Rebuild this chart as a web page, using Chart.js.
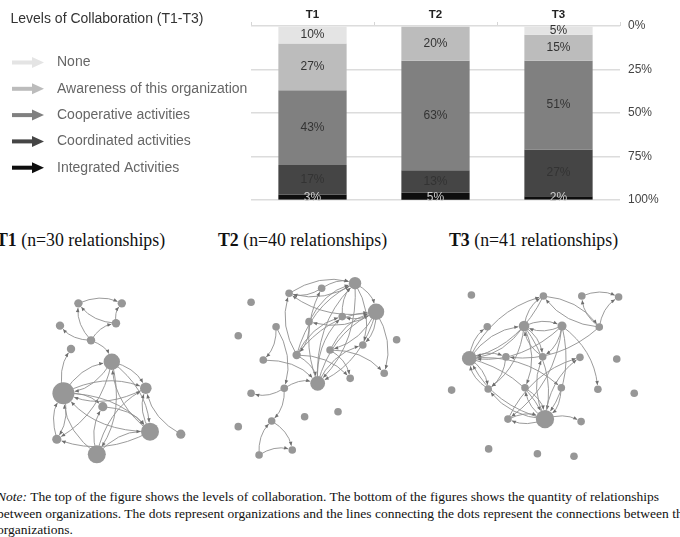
<!DOCTYPE html>
<html>
<head>
<meta charset="utf-8">
<title>Levels of Collaboration</title>
<script src="https://cdn.jsdelivr.net/npm/chart.js@4.4.1/dist/chart.umd.min.js"></script>
<style>
  html, body { margin: 0; padding: 0; background: #fff; }
  body { width: 680px; height: 537px; overflow: hidden; position: relative; }
  #bars { position: absolute; left: 0; top: 0; }
  .net { position: absolute; top: 262px; }
  .ttl { position: absolute; top: 230px; font: 17.8px "Liberation Serif", "Times New Roman", serif; color: #111; white-space: nowrap; }
  #note { position: absolute; left: -3px; top: 489px; font: 13.5px "Liberation Serif", "Times New Roman", serif; line-height: 16.5px; white-space: nowrap; color: #111; }
</style>
</head>
<body>
<canvas id="bars" width="680" height="215"></canvas>

<div class="ttl" style="left:-4px"><b>T1</b> (n=30 relationships)</div>
<div class="ttl" style="left:218px"><b>T2</b> (n=40 relationships)</div>
<div class="ttl" style="left:449px"><b>T3</b> (n=41 relationships)</div>

<canvas id="net1" class="net" width="200" height="210" style="left:20px"></canvas>
<canvas id="net2" class="net" width="210" height="210" style="left:220px"></canvas>
<canvas id="net3" class="net" width="230" height="210" style="left:430px"></canvas>

<div id="note"><i>Note:</i> The top of the figure shows the levels of collaboration. The bottom of the figures shows the quantity of relationships<br>between organizations. The dots represent organizations and the lines connecting the dots represent the connections between the<br>organizations.</div>

<script>
// ---------------- levels of collaboration (stacked %) ----------------
const categories = ['T1', 'T2', 'T3'];
const levels = ['None', 'Awareness of this organization', 'Cooperative activities', 'Coordinated activities', 'Integrated Activities'];
const noneValues = [10, 0, 5];
const awarenessValues = [27, 20, 15];
const cooperativeValues = [43, 63, 51];
const coordinatedValues = [17, 13, 27];
const integratedValues = [3, 5, 2];
const yTicks = [0, 25, 50, 75, 100];

const levelColors = ['#e4e4e4', '#bcbcbc', '#808080', '#454545', '#0e0e0e'];

// ---------------- networks: node layout (0-100), node centrality, edges [from, to] ----------------
const t1NodeX = [29.2, 50.9, 48.0, 20.0, 35.5, 25.5, 45.9, 21.7, 62.9, 41.4, 65.0, 80.4, 18.4, 38.4];
const t1NodeY = [19.7, 19.7, 29.2, 30.3, 37.3, 41.4, 47.5, 62.5, 60.1, 68.9, 80.8, 82.0, 84.4, 91.6];
const t1Centrality = [1, 1, 1, 1, 1, 1, 6, 9.5, 3, 1.5, 7, 1.5, 1.5, 7];
const t1Edges = [[0,1],[2,0],[2,1],[4,2],[4,0],[4,3],[4,6],[7,5],[7,6],[6,7],[6,8],[7,8],[8,7],[7,9],[7,10],
  [6,12],[6,13],[6,10],[10,8],[10,7],[10,12],[13,10],[13,7],[12,7],[11,8],[13,9],[13,8],[10,6],[7,12],[9,10]];

const t2NodeX = [64.3, 74.3, 32.9, 48.4, 14.8, 42.4, 58.2, 26.7, 8.7, 84.1, 68.0, 36.5, 52.4, 20.6, 78.2, 62.0, 46.5, 30.6, 14.8, 56.2, 40.3, 24.6, 8.7, 34.4, 18.6];
const t2NodeY = [10.1, 23.7, 14.9, 12.5, 19.2, 28.4, 26.0, 30.8, 35.1, 37.0, 39.5, 44.3, 41.9, 46.7, 53.0, 55.4, 57.8, 60.1, 62.5, 71.3, 73.7, 75.7, 78.4, 89.5, 91.9];
const t2Centrality = [3.5, 6, 0.5, 0.5, 0.5, 0.5, 0.5, 0.5, 0.5, 0.5, 0.5, 1, 0.5, 0.5, 0.5, 0.5, 5, 0.5, 0.5, 0.5, 0.5, 0.5, 0.5, 0.5, 0.5];
const t2Edges = [[3,0],[2,0],[0,2],[0,1],[1,2],[1,5],[1,6],[1,10],[1,14],[1,16],[16,1],[16,0],[0,16],[11,0],[11,1],
  [11,2],[11,16],[5,11],[16,3],[7,13],[7,17],[17,16],[13,16],[17,18],[17,21],[21,23],[24,23],[24,21],[11,15],[12,15],
  [12,14],[11,6],[0,10],[1,12],[16,6],[6,0],[12,1],[5,0],[16,10],[3,2]];

const t3NodeX = [18.0, 49.3, 66.0, 82.0, 24.9, 40.9, 57.4, 73.6, 17.1, 33.0, 49.0, 65.2, 81.2, 9.4, 25.3, 41.3, 57.1, 73.0, 88.8, 33.9, 50.0, 65.7, 25.5, 46.7, 62.6];
const t3NodeY = [15.7, 16.2, 16.2, 16.7, 30.8, 30.5, 30.5, 31.0, 45.9, 45.2, 45.1, 45.4, 46.2, 61.0, 60.5, 59.9, 59.9, 60.6, 62.5, 74.8, 74.8, 76.0, 89.0, 91.3, 92.5];
const t3Centrality = [0.5, 0.5, 0.5, 0.5, 0.5, 2.4, 1.4, 0.5, 5, 0.5, 0.5, 0.5, 0.5, 0.5, 0.5, 0.5, 0.5, 0.5, 0.5, 0.5, 7.2, 0.5, 0.5, 0.5, 0.5];
const t3Edges = [[2,3],[7,2],[7,3],[8,1],[5,1],[1,7],[7,1],[5,6],[6,5],[8,5],[5,8],[6,8],[8,4],[7,9],[8,20],
  [20,8],[5,20],[6,20],[20,10],[5,10],[5,14],[5,15],[6,17],[6,19],[8,14],[8,16],[14,8],[19,11],[20,14],[20,15],
  [20,21],[19,20],[20,19],[9,14],[10,5],[16,20],[20,11],[15,20],[8,9],[6,10],[1,8]];

// ---------------- plugins ----------------
// arrow legend on the left, drawn from the datasets
const arrowLegend = {
  id: 'arrowLegend',
  afterDraw(chart) {
    const ctx = chart.ctx;
    ctx.save();
    ctx.textBaseline = 'middle';
    ctx.textAlign = 'left';
    ctx.font = '14px "Liberation Sans", Arial, sans-serif';
    ctx.fillStyle = '#333';
    ctx.fillText('Levels of Collaboration (T1-T3)', 10.5, 19);
    chart.data.datasets.forEach((ds, i) => {
      const y = 62.5 + i * 26.3;
      ctx.fillStyle = ds.backgroundColor;
      ctx.fillRect(12, y - 2, 23, 4);
      ctx.beginPath();
      ctx.moveTo(32, y - 5.5);
      ctx.lineTo(44, y);
      ctx.lineTo(32, y + 5.5);
      ctx.closePath();
      ctx.fill();
      ctx.fillStyle = '#666';
      ctx.fillText(ds.label, 57, y);
    });
    ctx.restore();
  }
};

// percent labels in the middle of each segment
const segmentLabels = {
  id: 'segmentLabels',
  afterDatasetsDraw(chart) {
    const ctx = chart.ctx;
    ctx.save();
    ctx.font = '12px "Liberation Sans", Arial, sans-serif';
    ctx.textAlign = 'center';
    ctx.textBaseline = 'middle';
    chart.data.datasets.forEach((ds, i) => {
      chart.getDatasetMeta(i).data.forEach((bar, j) => {
        const v = ds.data[j];
        if (!v) return;
        const p = bar.getProps(['x', 'y', 'base'], true);
        ctx.fillStyle = i === 4 ? '#cfcfcf' : '#333';
        ctx.fillText(v + '%', p.x, Math.min((p.y + p.base) / 2, 200));
      });
    });
    ctx.restore();
  }
};

// curved directed edges between nodes
const edgeLines = {
  id: 'edgeLines',
  beforeDatasetsDraw(chart, args, opts) {
    const nodes = chart.getDatasetMeta(0).data;
    const ctx = chart.ctx;
    ctx.save();
    ctx.strokeStyle = '#909090';
    ctx.fillStyle = '#6f6f6f';
    ctx.lineWidth = 0.9;
    opts.list.forEach(([s, t]) => {
      const a = nodes[s], b = nodes[t];
      const dx = b.x - a.x, dy = b.y - a.y;
      const cx = (a.x + b.x) / 2 + dy * 0.22, cy = (a.y + b.y) / 2 - dx * 0.22;
      let ux = b.x - cx, uy = b.y - cy;
      const ul = Math.hypot(ux, uy) || 1;
      ux /= ul; uy /= ul;
      const rt = b.options.radius + 0.5;
      const ex = b.x - ux * rt, ey = b.y - uy * rt;
      ctx.beginPath();
      ctx.moveTo(a.x, a.y);
      ctx.quadraticCurveTo(cx, cy, ex, ey);
      ctx.stroke();
      ctx.beginPath();
      ctx.moveTo(ex, ey);
      ctx.lineTo(ex - ux * 4 - uy * 1.8, ey - uy * 4 + ux * 1.8);
      ctx.lineTo(ex - ux * 4 + uy * 1.8, ey - uy * 4 - ux * 1.8);
      ctx.closePath();
      ctx.fill();
    });
    ctx.restore();
  }
};

// ---------------- stacked bar chart ----------------
const seriesValues = [noneValues, awarenessValues, cooperativeValues, coordinatedValues, integratedValues];

new Chart(document.getElementById('bars'), {
  type: 'bar',
  data: {
    labels: categories,
    datasets: levels.map((name, i) => ({
      label: name,
      data: seriesValues[i],
      backgroundColor: levelColors[i],
      borderWidth: 0,
      barPercentage: 0.555,
      categoryPercentage: 1
    }))
  },
  options: {
    responsive: false,
    animation: false,
    events: [],
    layout: { padding: { left: 251, right: 0, top: 0, bottom: 10 } },
    scales: {
      x: {
        position: 'top',
        stacked: true,
        grid: { display: true, drawOnChartArea: false, drawTicks: true, tickLength: 4, color: '#d6d6d6', offset: true },
        border: { display: false },
        ticks: { font: { family: 'Liberation Sans', size: 11.5, weight: 'bold' }, color: '#222', padding: 0 },
        afterFit: a => { a.height = 26; }
      },
      y: {
        position: 'right',
        stacked: true,
        reverse: true,
        min: 0,
        max: 100,
        grid: { color: '#dcdcdc', lineWidth: 1.5, drawTicks: false },
        border: { display: false },
        afterBuildTicks: a => { a.ticks = yTicks.map(v => ({ value: v })); },
        ticks: { padding: 8, callback: v => v + '%', font: { family: 'Liberation Sans', size: 12 }, color: '#444' },
        afterFit: a => { a.width = 60; }
      }
    },
    plugins: { legend: { display: false }, tooltip: { enabled: false } }
  },
  plugins: [arrowLegend, segmentLabels]
});

// ---------------- network charts ----------------
function networkChart(id, xs, ys, centrality, edges) {
  new Chart(document.getElementById(id), {
    type: 'scatter',
    data: {
      datasets: [{
        data: xs.map((x, i) => ({ x: x, y: ys[i] })),
        backgroundColor: '#979797',
        borderWidth: 0,
        pointRadius: c => 3.4 + 0.8 * centrality[c.dataIndex]
      }]
    },
    options: {
      responsive: false,
      animation: false,
      events: [],
      layout: { padding: 0, autoPadding: false },
      scales: {
        x: { display: false, min: 0, max: 100 },
        y: { display: false, min: 0, max: 100, reverse: true }
      },
      plugins: { legend: { display: false }, tooltip: { enabled: false }, edgeLines: { list: edges } }
    },
    plugins: [edgeLines]
  });
}

networkChart('net1', t1NodeX, t1NodeY, t1Centrality, t1Edges);
networkChart('net2', t2NodeX, t2NodeY, t2Centrality, t2Edges);
networkChart('net3', t3NodeX, t3NodeY, t3Centrality, t3Edges);
</script>
</body>
</html>
